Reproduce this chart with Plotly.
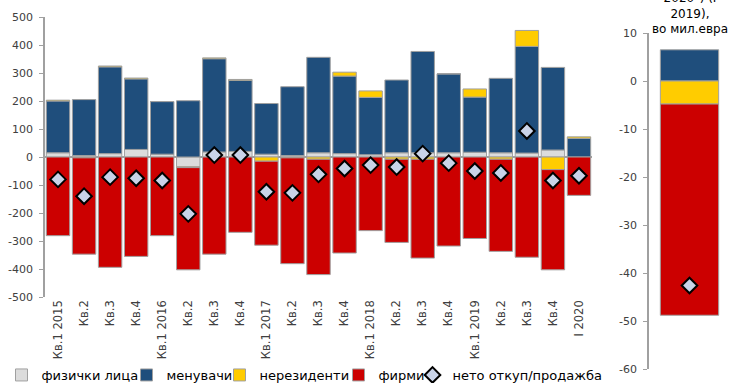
import plotly.graph_objects as go

categories = ["Кв.1 2015", "Кв.2", "Кв.3", "Кв.4",
              "Кв.1 2016", "Кв.2", "Кв.3", "Кв.4",
              "Кв.1 2017", "Кв.2", "Кв.3", "Кв.4",
              "Кв.1 2018", "Кв.2", "Кв.3", "Кв.4",
              "Кв.1 2019", "Кв.2", "Кв.3", "Кв.4",
              "I 2020"]
physical = [15, 5, 12, 27, 10, -35, 18, 20, 10, 5, 15, 12, 8, 15, 15, 15, 17, 15, 14, 25, 0]
exchange = [185, 200, 310, 252, 188, 201, 333, 254, 181, 246, 341, 277, 205, 260, 362, 282, 197, 266, 381, 295, 67]
nonresid = [3, -3, 3, 3, 0, -3, 3, 3, -15, -3, -8, 14, 23, -8, -8, 0, 29, -8, 57, -45, 5]
firms = [-281, -344, -394, -355, -281, -365, -347, -269, -300, -378, -412, -343, -263, -297, -353, -318, -291, -329, -358, -358, -137]
net = [-80, -140, -72, -76, -84, -203, 7, 7, -124, -128, -62, -41, -29, -36, 12, -22, -50, -57, 93, -84, -67]

# right panel: change (I 2020 vs I 2019), mil. EUR
r_physical = [0]
r_exchange = [6.5]
r_nonresid = [-4.8]
r_firms = [-44.0]
r_net = [-42.6]

left_ticks = [-500, -400, -300, -200, -100, 0, 100, 200, 300, 400, 500]
left_ticktext = ["-500", "-400", "-300", "-200", "-100", "0", "100", "200", "300", "400", "500"]
right_ticks = [-60, -50, -40, -30, -20, -10, 0, 10]
right_ticktext = ["-60", "-50", "-40", "-30", "-20", "-10", "0", "10"]

names = ["физички лица", "менувачи", "нерезиденти", "фирми", "нето откуп/продажба"]
colors = ["#DCDCDC", "#1F4E7C", "#FFCC00", "#CC0000"]
font_family = "DejaVu Sans"
txt = "#404040"

W, H = 730, 383
legend_ids = ["legend", "legend2", "legend3", "legend4", "legend5"]
legend_text_x = [40, 165, 258, 377, 451]

x = list(range(len(categories)))
fig = go.Figure()
series = [physical, exchange, nonresid, firms]
rseries = [r_physical, r_exchange, r_nonresid, r_firms]
for i in range(4):
    fig.add_trace(go.Bar(x=x, y=series[i], name=names[i], width=0.9, legend=legend_ids[i],
                         marker=dict(color=colors[i], line=dict(color="#A0A0A0", width=1)),
                         xaxis="x", yaxis="y"))
fig.add_trace(go.Scatter(x=x, y=net, name=names[4], mode="markers", legend=legend_ids[4],
                         marker=dict(symbol="diamond", size=12, color="#C9D3E8",
                                     line=dict(color="#000000", width=2)),
                         xaxis="x", yaxis="y"))
for i in range(4):
    fig.add_trace(go.Bar(x=[0], y=rseries[i], name=names[i], width=0.72, showlegend=False,
                         marker=dict(color=colors[i], line=dict(color="#A0A0A0", width=1)),
                         xaxis="x2", yaxis="y2"))
fig.add_trace(go.Scatter(x=[0], y=r_net, name=names[4], mode="markers", showlegend=False,
                         marker=dict(symbol="diamond", size=12, color="#C9D3E8",
                                     line=dict(color="#000000", width=2)),
                         xaxis="x2", yaxis="y2"))

legends = {}
for i, lid in enumerate(legend_ids):
    legends[lid] = dict(orientation="h", x=(legend_text_x[i] - 38.5) / W, y=(H - 375) / H,
                        xanchor="left", yanchor="middle", itemwidth=30,
                        font=dict(size=13, color="#000000", family=font_family),
                        bgcolor="rgba(0,0,0,0)", borderwidth=0)

fig.update_layout(
    width=W, height=H, margin=dict(l=0, r=0, t=0, b=0, autoexpand=False),
    paper_bgcolor="white", plot_bgcolor="white",
    barmode="relative",
    font=dict(family=font_family, size=11, color=txt),
    xaxis=dict(domain=[45 / W, 592 / W], range=[-0.5, 20.5], tickmode="array",
               tickvals=x, ticktext=categories, tickangle=-90, showline=False,
               showgrid=False, zeroline=False, ticks="", anchor="y", automargin=False,
               tickfont=dict(size=11.5, color=txt)),
    yaxis=dict(domain=[86 / H, 366 / H], range=[-500, 500], tickmode="array",
               tickvals=left_ticks, ticktext=left_ticktext,
               showgrid=False, zeroline=True, zerolinecolor="#A0A0A0", zerolinewidth=1.5,
               showline=True, linecolor="#A0A0A0", linewidth=1.5, ticks="outside",
               ticklen=4, tickcolor="#A0A0A0", anchor="x", automargin=False,
               ticklabelstandoff=4, tickfont=dict(size=11, color=txt)),
    xaxis2=dict(domain=[649 / W, 730 / W], range=[-0.5, 0.5], showticklabels=False,
                showgrid=False, zeroline=False, showline=False, ticks="", anchor="y2",
                automargin=False),
    yaxis2=dict(domain=[14 / H, 350 / H], range=[-60, 10], tickmode="array",
                tickvals=right_ticks, ticktext=right_ticktext,
                showgrid=False, zeroline=False, showline=True, linecolor="#A0A0A0",
                linewidth=1.5, ticks="outside", ticklen=4, tickcolor="#A0A0A0",
                anchor="x2", automargin=False, ticklabelstandoff=4,
                tickfont=dict(size=11, color=txt)),
    annotations=[dict(text="2020\") (I<br>2019),<br>во мил.евра", x=690 / W, y=(H - 38) / H,
                      xref="paper", yref="paper", xanchor="center", yanchor="bottom",
                      showarrow=False, align="center",
                      font=dict(size=12, color="#000000", family=font_family))],
    **legends,
)
fig.write_html("out.html")
